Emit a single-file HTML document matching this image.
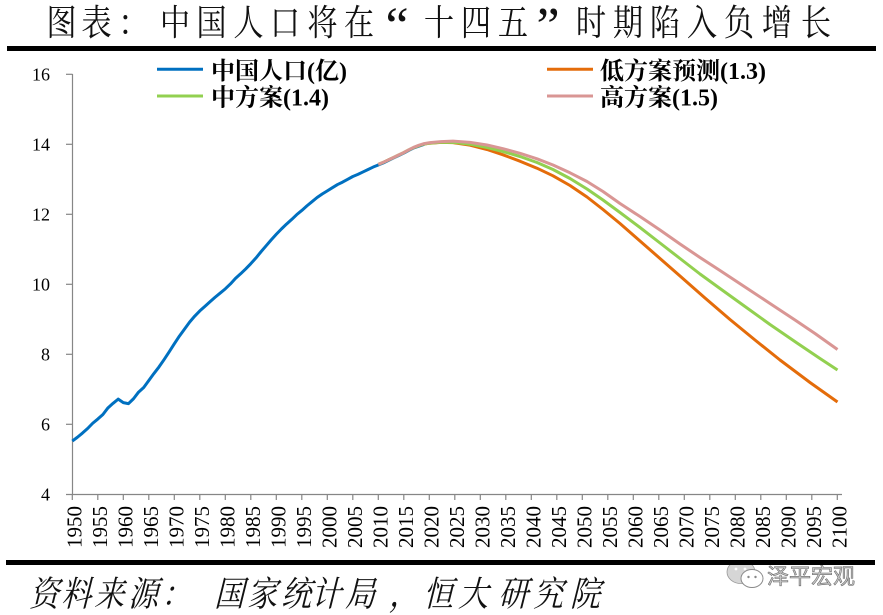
<!DOCTYPE html>
<html lang="zh-CN">
<head>
<meta charset="utf-8">
<style>
  html,body{margin:0;padding:0;background:#fff;}
  body{width:883px;height:615px;overflow:hidden;}
  svg{display:block;}
  .ttl{font-family:"Noto Serif CJK SC","Liberation Serif",serif;font-size:36px;fill:#111;}
  .q{font-family:"Liberation Serif",serif;font-size:52px;fill:#111;}
  .ft{font-family:"Noto Serif CJK SC","Liberation Serif",serif;font-size:35px;fill:#111;}
  .lg{font-family:"Liberation Serif","Noto Serif CJK SC",serif;font-size:24px;font-weight:bold;fill:#000;}
  .yl{font-family:"Liberation Serif",serif;font-size:18px;fill:#000;}
  .xl{font-family:"Liberation Serif",serif;font-size:21px;fill:#000;}
  .wm{font-family:"Noto Sans CJK SC","WenQuanYi Zen Hei",sans-serif;font-size:22px;fill:#c8c8c8;stroke:#6a6a6a;stroke-width:0.6;}
</style>
</head>
<body>
<svg width="883" height="615" viewBox="0 0 883 615" xmlns="http://www.w3.org/2000/svg">
  <rect x="0" y="0" width="883" height="615" fill="#fff"/>

  <!-- Title -->
  <g text-anchor="middle">
    <text class="ttl" transform="translate(61.5,35) scale(0.84,1)">图</text>
    <text class="ttl" transform="translate(96.5,35) scale(0.84,1)">表</text>
    <text class="ttl" transform="translate(134,35) scale(0.9,1)">：</text>
    <text class="ttl" transform="translate(175,35) scale(0.84,1)">中</text>
    <text class="ttl" transform="translate(211.5,35) scale(0.84,1)">国</text>
    <text class="ttl" transform="translate(248.5,35) scale(0.84,1)">人</text>
    <text class="ttl" transform="translate(285,35) scale(0.84,1)">口</text>
    <text class="ttl" transform="translate(322.5,35) scale(0.84,1)">将</text>
    <text class="ttl" transform="translate(359,35) scale(0.84,1)">在</text>
    <text class="q" x="397" y="43">“</text>
    <text class="ttl" transform="translate(439,35) scale(0.84,1)">十</text>
    <text class="ttl" transform="translate(476,35) scale(0.84,1)">四</text>
    <text class="ttl" transform="translate(513,35) scale(0.84,1)">五</text>
    <text class="q" x="548" y="43">”</text>
    <text class="ttl" transform="translate(591,35) scale(0.84,1)">时</text>
    <text class="ttl" transform="translate(628,35) scale(0.84,1)">期</text>
    <text class="ttl" transform="translate(665,35) scale(0.84,1)">陷</text>
    <text class="ttl" transform="translate(702,35) scale(0.84,1)">入</text>
    <text class="ttl" transform="translate(739,35) scale(0.84,1)">负</text>
    <text class="ttl" transform="translate(777,35) scale(0.84,1)">增</text>
    <text class="ttl" transform="translate(816,35) scale(0.84,1)">长</text>
  </g>
  <rect x="7" y="46" width="869" height="5" fill="#000"/>

  <!-- Legend -->
  <line x1="157" y1="69.3" x2="203" y2="69.3" stroke="#0070C0" stroke-width="3"/>
  <text class="lg" x="211" y="79">中国人口(亿)</text>
  <line x1="547" y1="69.3" x2="593" y2="69.3" stroke="#E46C0A" stroke-width="3"/>
  <text class="lg" x="600" y="79">低方案预测(1.3)</text>
  <line x1="157" y1="96" x2="203" y2="96" stroke="#92D050" stroke-width="3"/>
  <text class="lg" x="211" y="105.5">中方案(1.4)</text>
  <line x1="547" y1="96" x2="593" y2="96" stroke="#D99694" stroke-width="3"/>
  <text class="lg" x="600" y="105.5">高方案(1.5)</text>

  <!-- Axes -->
  <g stroke="#868686" stroke-width="1.2" fill="none">
    <line x1="72.5" y1="74" x2="72.5" y2="494.5"/>
    <line x1="66" y1="494.5" x2="842" y2="494.5"/>
    <line x1="66" y1="74.3" x2="72.5" y2="74.3"/>
    <line x1="66" y1="144.3" x2="72.5" y2="144.3"/>
    <line x1="66" y1="214.3" x2="72.5" y2="214.3"/>
    <line x1="66" y1="284.3" x2="72.5" y2="284.3"/>
    <line x1="66" y1="354.3" x2="72.5" y2="354.3"/>
    <line x1="66" y1="424.3" x2="72.5" y2="424.3"/>
    <path d="M72.3 494.5v5.5M97.8 494.5v5.5M123.3 494.5v5.5M148.8 494.5v5.5M174.3 494.5v5.5M199.8 494.5v5.5M225.3 494.5v5.5M250.8 494.5v5.5M276.3 494.5v5.5M301.8 494.5v5.5M327.3 494.5v5.5M352.8 494.5v5.5M378.3 494.5v5.5M403.8 494.5v5.5M429.3 494.5v5.5M454.8 494.5v5.5M480.3 494.5v5.5M505.8 494.5v5.5M531.3 494.5v5.5M556.8 494.5v5.5M582.3 494.5v5.5M607.8 494.5v5.5M633.3 494.5v5.5M658.8 494.5v5.5M684.3 494.5v5.5M709.8 494.5v5.5M735.3 494.5v5.5M760.8 494.5v5.5M786.3 494.5v5.5M811.8 494.5v5.5M837.3 494.5v5.5"/>
  </g>

  <!-- Y labels -->
  <g class="yl" text-anchor="end">
    <text x="50" y="80.3">16</text>
    <text x="50" y="150.3">14</text>
    <text x="50" y="220.3">12</text>
    <text x="50" y="290.3">10</text>
    <text x="50" y="360.3">8</text>
    <text x="50" y="430.3">6</text>
    <text x="50" y="500.3">4</text>
  </g>

  <!-- X labels -->
  <g class="xl" text-anchor="end">
    <text transform="translate(81.3,506) rotate(-90)">1950</text>
    <text transform="translate(106.8,506) rotate(-90)">1955</text>
    <text transform="translate(132.3,506) rotate(-90)">1960</text>
    <text transform="translate(157.8,506) rotate(-90)">1965</text>
    <text transform="translate(183.3,506) rotate(-90)">1970</text>
    <text transform="translate(208.8,506) rotate(-90)">1975</text>
    <text transform="translate(234.3,506) rotate(-90)">1980</text>
    <text transform="translate(259.8,506) rotate(-90)">1985</text>
    <text transform="translate(285.3,506) rotate(-90)">1990</text>
    <text transform="translate(310.8,506) rotate(-90)">1995</text>
    <text transform="translate(336.3,506) rotate(-90)">2000</text>
    <text transform="translate(361.8,506) rotate(-90)">2005</text>
    <text transform="translate(387.3,506) rotate(-90)">2010</text>
    <text transform="translate(412.8,506) rotate(-90)">2015</text>
    <text transform="translate(438.3,506) rotate(-90)">2020</text>
    <text transform="translate(463.8,506) rotate(-90)">2025</text>
    <text transform="translate(489.3,506) rotate(-90)">2030</text>
    <text transform="translate(514.8,506) rotate(-90)">2035</text>
    <text transform="translate(540.3,506) rotate(-90)">2040</text>
    <text transform="translate(565.8,506) rotate(-90)">2045</text>
    <text transform="translate(591.3,506) rotate(-90)">2050</text>
    <text transform="translate(616.8,506) rotate(-90)">2055</text>
    <text transform="translate(642.3,506) rotate(-90)">2060</text>
    <text transform="translate(667.8,506) rotate(-90)">2065</text>
    <text transform="translate(693.3,506) rotate(-90)">2070</text>
    <text transform="translate(718.8,506) rotate(-90)">2075</text>
    <text transform="translate(744.3,506) rotate(-90)">2080</text>
    <text transform="translate(769.8,506) rotate(-90)">2085</text>
    <text transform="translate(795.3,506) rotate(-90)">2090</text>
    <text transform="translate(820.8,506) rotate(-90)">2095</text>
    <text transform="translate(846.3,506) rotate(-90)">2100</text>
  </g>

  <!-- Series -->
  <g fill="none" stroke-width="3" stroke-linejoin="round" stroke-linecap="butt">
    <polyline stroke="#0070C0" points="72.3,441.1 77.4,437.25 82.5,433.05 87.6,428.5 92.7,423.25 97.8,419.05 102.9,414.5 108,407.85 113.1,403.3 118.2,399.1 123.3,402.6 128.4,403.65 133.5,398.75 138.6,392.1 143.7,387.55 148.8,380.55 153.9,373.55 159,366.9 164.1,359.55 169.2,351.85 174.3,343.8 179.4,336.1 184.5,329.1 189.6,322.1 194.7,316.15 199.8,310.9 204.9,306.35 210,301.8 215.1,297.25 220.2,293.05 225.3,288.85 230.4,283.95 235.5,278.35 240.6,273.8 245.7,268.9 250.8,263.65 255.9,258.05 261,251.75 266.1,245.8 271.2,239.85 276.3,234.25 281.4,229 286.5,224.1 291.6,219.55 296.7,214.65 301.8,210.45 306.9,205.9 312,201.7 317.1,197.5 322.2,194 327.3,190.85 332.4,187.7 337.5,184.55 342.6,182.1 347.7,179.3 352.8,176.5 357.9,174.4 363,171.95 368.1,169.5 373.2,167.05 378.3,164.95 383.4,162.85 388.5,160.4 393.6,157.95 398.7,155.5 403.8,153.05 408.9,150.25 414,147.8 419.1,146.05 424.2,144.3"/>
    <polyline stroke="#E46C0A" points="378.3,164.4 383.4,162.3 388.5,159.9 393.6,157.5 398.7,155 403.8,152.6 408.9,149.8 414,147.4 419.1,145.6 424.2,144 430,143.2 441,142.4 453,142.6 470,145.2 487,149.5 503,154.8 520,161.2 537,168.2 553,175.8 570,185.5 587,197 603,209.5 620,223.5 640,241 660,258.5 680,276 705,298 730,319.5 755,340 780,360 810,382.5 837.5,402"/>
    <polyline stroke="#92D050" points="378.3,164.4 383.4,162.3 388.5,159.9 393.6,157.5 398.7,155 403.8,152.6 408.9,149.8 414,147.4 419.1,145.6 424.2,144 430,143.1 441,142.3 455,142.5 470,144.2 487,147.5 503,151.5 520,156.5 537,162.5 553,169.5 570,178.5 587,189 603,200 620,212.5 640,227.5 660,243 680,258.5 700,274 720,288.5 745,306.5 770,324.5 797,343 820,358.5 837.5,370"/>
    <polyline stroke="#D99694" points="378.3,164.4 383.4,162.3 388.5,159.9 393.6,157.5 398.7,155 403.8,152.6 408.9,149.8 414,147.2 419.1,145.2 424.2,143.6 430,142.6 441,141.6 453,141.1 470,142.4 487,145 503,148.7 520,153.3 537,158.8 553,165 570,172.8 587,181.5 603,191.5 620,203.5 640,216.5 660,230 680,244 700,257.5 720,270.5 745,287 770,303.5 795,320 815,333.5 837.5,349.5"/>
  </g>

  <!-- Watermark -->
  <ellipse cx="741" cy="572" rx="14" ry="11.5" fill="#d6d6d6" stroke="#9a9a9a" stroke-width="0.8"/>
  <ellipse cx="752" cy="578.5" rx="11" ry="9" fill="#fff" stroke="#8a8a8a" stroke-width="1"/>
  <circle cx="748.5" cy="577" r="1.2" fill="#888"/>
  <circle cx="755.5" cy="577" r="1.2" fill="#888"/>
  <circle cx="736" cy="569" r="1.4" fill="#fff"/>
  <circle cx="745" cy="569" r="1.4" fill="#fff"/>
  <text class="wm" x="767" y="584">泽平宏观</text>

  <rect x="6" y="560" width="869" height="5" fill="#000"/>

  <!-- Footer -->
  <g text-anchor="middle">
    <text class="ft" transform="translate(44,606) skewX(-14) scale(0.86,1)">资</text>
    <text class="ft" transform="translate(76,606) skewX(-14) scale(0.86,1)">料</text>
    <text class="ft" transform="translate(109,606) skewX(-14) scale(0.86,1)">来</text>
    <text class="ft" transform="translate(143,606) skewX(-14) scale(0.86,1)">源</text>
    <text class="ft" transform="translate(176,606) skewX(-14) scale(0.86,1)">：</text>
    <text class="ft" transform="translate(229,606) skewX(-14) scale(0.86,1)">国</text>
    <text class="ft" transform="translate(262,606) skewX(-14) scale(0.86,1)">家</text>
    <text class="ft" transform="translate(296,606) skewX(-14) scale(0.86,1)">统</text>
    <text class="ft" transform="translate(326,606) skewX(-14) scale(0.86,1)">计</text>
    <text class="ft" transform="translate(360,606) skewX(-14) scale(0.86,1)">局</text>
    <text class="ft" transform="translate(404,606) skewX(-14) scale(0.86,1)">，</text>
    <text class="ft" transform="translate(438,606) skewX(-14) scale(0.86,1)">恒</text>
    <text class="ft" transform="translate(473,606) skewX(-14) scale(0.86,1)">大</text>
    <text class="ft" transform="translate(513,606) skewX(-14) scale(0.86,1)">研</text>
    <text class="ft" transform="translate(548,606) skewX(-14) scale(0.86,1)">究</text>
    <text class="ft" transform="translate(585,606) skewX(-14) scale(0.86,1)">院</text>
  </g>
</svg>
</body>
</html>
